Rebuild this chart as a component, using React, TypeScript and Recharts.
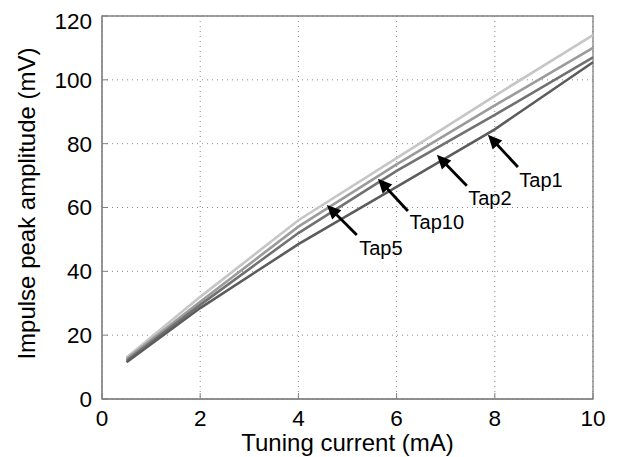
import React from 'react';
import { LineChart, Line, XAxis, YAxis, CartesianGrid, ReferenceArea, ReferenceLine, ReferenceDot } from 'recharts';

const current = [0.5, 2, 4, 6, 8, 10];
const tap1 = [11.5, 28.5, 48.5, 66.5, 84.5, 105.5];
const tap2 = [12, 29.5, 52, 71.5, 89, 107];
const tap10 = [12.5, 30.5, 54, 73.5, 92, 110];
const tap5 = [13, 32, 56, 75.5, 95, 114];

const xTicks = [0, 2, 4, 6, 8, 10];
const yTicks = [0, 20, 40, 60, 80, 100, 120];

const annotationNames = ['Tap1', 'Tap2', 'Tap10', 'Tap5'];
const arrowTip = [[7.86, 82.8], [6.82, 76.5], [5.62, 69.0], [4.58, 60.8]];
const arrowTail = [[8.47, 72.7], [7.43, 66.8], [6.23, 58.9], [5.19, 51.4]];
const labelAt = [[8.94, 68.7], [7.9, 63.0], [6.82, 55.5], [5.68, 47.3]];

const data = current.map((c, i) => ({ c, tap1: tap1[i], tap2: tap2[i], tap10: tap10[i], tap5: tap5[i] }));

const FONT = 'Liberation Sans, Arial, Helvetica, sans-serif';

const Arrow = (p: any) => {
  const { x1, y1, x2, y2 } = p;
  const dx = x2 - x1, dy = y2 - y1;
  const len = Math.sqrt(dx * dx + dy * dy) || 1;
  const ux = dx / len, uy = dy / len;
  const hl = 14, hw = 6.5;
  const bx = x2 - ux * hl, by = y2 - uy * hl;
  const pts = `${x2},${y2} ${bx - uy * hw},${by + ux * hw} ${bx + uy * hw},${by - ux * hw}`;
  return (
    <g>
      <line x1={x1} y1={y1} x2={bx + ux * 2} y2={by + uy * 2} stroke="#000" strokeWidth={2.8} />
      <polygon points={pts} fill="#000" />
    </g>
  );
};

export default function App() {
  return (
    <div style={{ width: 611, height: 449 }}>
      <LineChart width={611} height={449} data={data} margin={{ top: 8, right: 26, left: 0, bottom: 0 }}>
        <CartesianGrid stroke="#8a8a8a" strokeDasharray="1 4" />
        <XAxis
          dataKey="c"
          type="number"
          domain={[0, 10]}
          ticks={xTicks}
          height={58}
          stroke="#808080"
          tickSize={-6}
          tickMargin={17}
          tick={{ fill: '#000', fontSize: 22.5, fontFamily: FONT }}
          label={{
            content: (p: any) => {
              const vb = p.viewBox;
              return (
                <text x={vb.x + vb.width / 2} y={443} textAnchor="middle" fontSize={24} fontFamily={FONT} fill="#000">
                  Tuning current (mA)
                </text>
              );
            },
          }}
        />
        <YAxis
          type="number"
          domain={[0, 120]}
          ticks={yTicks}
          width={94}
          stroke="#808080"
          tickSize={-6}
          tickMargin={16}
          tick={{ fill: '#000', fontSize: 22.5, fontFamily: FONT }}
          label={{
            content: (p: any) => {
              const vb = p.viewBox;
              const cy = vb.y + vb.height / 2 - 4;
              return (
                <text x={27} y={cy} transform={`rotate(-90, 27, ${cy})`} textAnchor="middle" fontSize={24} fontFamily={FONT} fill="#000">
                  Impulse peak amplitude (mV)
                </text>
              );
            },
          }}
        />
        <ReferenceArea x1={0} x2={10} y1={0} y2={120} fill="none" stroke="#808080" strokeWidth={1.3} />
        <Line dataKey="tap5" stroke="#c6c6c6" strokeWidth={2.6} dot={false} isAnimationActive={false} />
        <Line dataKey="tap10" stroke="#9b9b9b" strokeWidth={2.6} dot={false} isAnimationActive={false} />
        <Line dataKey="tap2" stroke="#717171" strokeWidth={2.6} dot={false} isAnimationActive={false} />
        <Line dataKey="tap1" stroke="#5c5c5c" strokeWidth={2.6} dot={false} isAnimationActive={false} />
        {annotationNames.map((n, i) => (
          <ReferenceLine
            key={'a' + n}
            segment={[
              { x: arrowTail[i][0], y: arrowTail[i][1] },
              { x: arrowTip[i][0], y: arrowTip[i][1] },
            ]}
            shape={Arrow}
          />
        ))}
        {annotationNames.map((n, i) => (
          <ReferenceDot
            key={'l' + n}
            x={labelAt[i][0]}
            y={labelAt[i][1]}
            r={0}
            shape={(p: any) => (
              <text x={p.cx} y={p.cy} textAnchor="middle" dominantBaseline="central" fontSize={20} fontFamily={FONT} fill="#000">
                {n}
              </text>
            )}
          />
        ))}
      </LineChart>
    </div>
  );
}
